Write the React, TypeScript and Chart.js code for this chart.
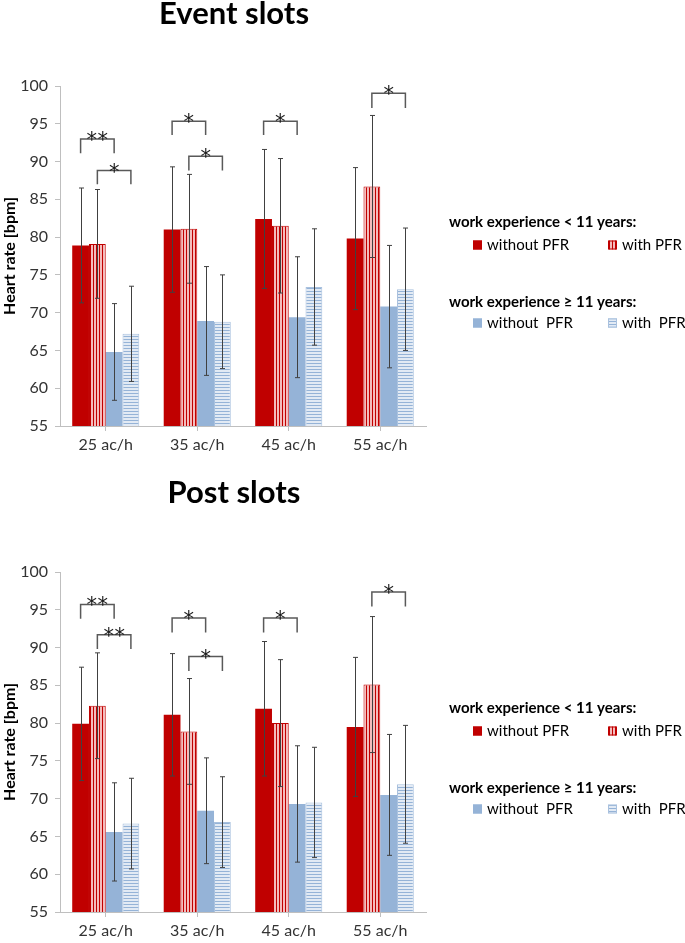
import React, { useEffect, useRef } from "react";
import { Chart, registerables } from "chart.js";

Chart.register(...registerables);

// ---------- data ----------
const categories = ["25 ac/h", "35 ac/h", "45 ac/h", "55 ac/h"];
const seriesLabels = ["without PFR", "with PFR", "without  PFR", "with  PFR"];
const legendHeaders = ["work experience < 11 years:", "work experience \u2265 11 years:"];
const yMin = 55;
const yMax = 100;
const yStep = 5;
const axisTitle = "Heart rate [bpm]";

// Event slots
const eventLtWithout = [78.9, 81.0, 82.4, 79.8];
const eventLtWithoutSd = [7.6, 8.3, 9.2, 9.4];
const eventLtWith = [79.1, 81.1, 81.5, 86.7];
const eventLtWithSd = [7.2, 7.2, 8.9, 9.4];
const eventGeWithout = [64.8, 68.9, 69.4, 70.8];
const eventGeWithoutSd = [6.4, 7.2, 8.0, 8.1];
const eventGeWith = [67.2, 68.8, 73.4, 73.1];
const eventGeWithSd = [6.3, 6.2, 7.7, 8.1];
const eventBrackets = [
  { cat: 0, from: 0, to: 2, top: 93.0, end: 91.1, label: "**" },
  { cat: 0, from: 1, to: 3, top: 88.8, end: 87.0, label: "*" },
  { cat: 1, from: 0, to: 2, top: 95.35, end: 93.5, label: "*" },
  { cat: 1, from: 1, to: 3, top: 90.7, end: 88.8, label: "*" },
  { cat: 2, from: 0, to: 2, top: 95.35, end: 93.5, label: "*" },
  { cat: 3, from: 1, to: 3, top: 99.05, end: 97.1, label: "*" },
];

// Post slots
const postLtWithout = [79.9, 81.1, 81.9, 79.5];
const postLtWithoutSd = [7.5, 8.1, 8.9, 9.2];
const postLtWith = [82.3, 78.9, 80.0, 85.1];
const postLtWithSd = [7.0, 7.0, 8.4, 9.0];
const postGeWithout = [65.6, 68.4, 69.3, 70.5];
const postGeWithoutSd = [6.5, 7.0, 7.7, 8.0];
const postGeWith = [66.7, 66.9, 69.5, 71.9];
const postGeWithSd = [6.0, 6.0, 7.3, 7.8];
const postBrackets = [
  { cat: 0, from: 0, to: 2, top: 95.7, end: 93.8, label: "**" },
  { cat: 0, from: 1, to: 3, top: 91.7, end: 89.8, label: "**" },
  { cat: 1, from: 0, to: 2, top: 93.9, end: 92.0, label: "*" },
  { cat: 1, from: 1, to: 3, top: 88.8, end: 86.9, label: "*" },
  { cat: 2, from: 0, to: 2, top: 93.9, end: 92.0, label: "*" },
  { cat: 3, from: 1, to: 3, top: 97.35, end: 95.45, label: "*" },
];

// ---------- styles ----------
const RED = "#C00000";
const BLUE = "#95B3D7";
const FONT = "Lato, 'Liberation Sans', sans-serif";

function makeVerticalStripes(): CanvasPattern | string {
  const c = document.createElement("canvas");
  c.width = 3;
  c.height = 3;
  const g = c.getContext("2d");
  if (!g) return RED;
  g.fillStyle = "#F4BCBC";
  g.fillRect(0, 0, 3, 3);
  g.fillStyle = RED;
  g.fillRect(0, 0, 1, 3);
  return g.createPattern(c, "repeat") || RED;
}

function makeHorizontalStripes(): CanvasPattern | string {
  const c = document.createElement("canvas");
  c.width = 3;
  c.height = 3;
  const g = c.getContext("2d");
  if (!g) return BLUE;
  g.fillStyle = "#E2EAF4";
  g.fillRect(0, 0, 3, 3);
  g.fillStyle = BLUE;
  g.fillRect(0, 0, 3, 1);
  return g.createPattern(c, "repeat") || BLUE;
}

const errorBarPlugin = {
  id: "errorBars",
  afterDatasetsDraw(chart: any, _args: any, opts: any) {
    const sds: number[][] = opts.sds || [];
    const ctx = chart.ctx;
    const yScale = chart.scales.y;
    ctx.save();
    ctx.strokeStyle = "#404040";
    ctx.lineWidth = 1;
    chart.data.datasets.forEach((ds: any, di: number) => {
      const meta = chart.getDatasetMeta(di);
      meta.data.forEach((el: any, i: number) => {
        const v = ds.data[i];
        const sd = (sds[di] || [])[i] || 0;
        const x = Math.round(el.x) + 0.5;
        const yt = yScale.getPixelForValue(v + sd);
        const yb = yScale.getPixelForValue(v - sd);
        ctx.beginPath();
        ctx.moveTo(x, yt);
        ctx.lineTo(x, yb);
        ctx.moveTo(x - 2.5, yt);
        ctx.lineTo(x + 2.5, yt);
        ctx.moveTo(x - 2.5, yb);
        ctx.lineTo(x + 2.5, yb);
        ctx.stroke();
      });
    });
    ctx.restore();
  },
};

const bracketPlugin = {
  id: "brackets",
  afterDatasetsDraw(chart: any, _args: any, opts: any) {
    const items = opts.items || [];
    const ctx = chart.ctx;
    const yScale = chart.scales.y;
    ctx.save();
    ctx.strokeStyle = "#595959";
    ctx.lineWidth = 1.5;
    ctx.fillStyle = "#1a1a1a";
    ctx.font = `21px 'DejaVu Sans', sans-serif`;
    ctx.textAlign = "center";
    ctx.textBaseline = "alphabetic";
    items.forEach((b: any) => {
      const x1 = chart.getDatasetMeta(b.from).data[b.cat].x;
      const x2 = chart.getDatasetMeta(b.to).data[b.cat].x;
      const yt = yScale.getPixelForValue(b.top);
      const ye = yScale.getPixelForValue(b.end);
      ctx.beginPath();
      ctx.moveTo(x1, ye);
      ctx.lineTo(x1, yt);
      ctx.lineTo(x2, yt);
      ctx.lineTo(x2, ye);
      ctx.stroke();
      const chars = b.label.split("");
      const gap = 11;
      const cx = (x1 + x2) / 2;
      chars.forEach((ch: string, k: number) => {
        const off = (k - (chars.length - 1) / 2) * gap;
        ctx.fillText(ch, cx + off, yt + 8);
      });
    });
    ctx.restore();
  },
};

const decorPlugin = {
  id: "decor",
  afterDraw(chart: any, _args: any, opts: any) {
    const ctx = chart.ctx;
    const area = chart.chartArea;
    ctx.save();
    // title
    ctx.fillStyle = "#000";
    ctx.font = `bold 31px ${FONT}`;
    ctx.textAlign = "center";
    ctx.textBaseline = "middle";
    ctx.fillText(opts.title, opts.titleX, opts.titleY);

    // legend
    const fills = opts.fills;
    const strokes = opts.strokes;
    const rx = area.right;
    const ty = area.top;
    const rows = [
      { header: legendHeaders[0], hy: ty + 136, iy: ty + 159, idx: [0, 1] },
      { header: legendHeaders[1], hy: ty + 216, iy: ty + 237, idx: [2, 3] },
    ];
    rows.forEach((r) => {
      ctx.font = `bold 15px ${FONT}`;
      ctx.textAlign = "left";
      ctx.textBaseline = "middle";
      ctx.fillStyle = "#000";
      ctx.fillText(r.header, rx + 23, r.hy);
      r.idx.forEach((di, k) => {
        const sx = rx + (k === 0 ? 47 : 182);
        ctx.fillStyle = fills[di];
        ctx.fillRect(sx, r.iy - 4.5, 9, 9);
        ctx.strokeStyle = strokes[di];
        ctx.lineWidth = 1;
        ctx.strokeRect(sx + 0.5, r.iy - 4, 8, 8);
        ctx.fillStyle = "#000";
        ctx.font = `15px ${FONT}`;
        ctx.fillText(seriesLabels[di], sx + 14, r.iy + 0.5);
      });
    });
    ctx.restore();
  },
};

type PanelProps = {
  title: string;
  titleY: number;
  height: number;
  padTop: number;
  padBottom: number;
  series: number[][];
  sds: number[][];
  brackets: any[];
};

function SlotChart(p: PanelProps) {
  const ref = useRef<HTMLCanvasElement | null>(null);
  useEffect(() => {
    if (!ref.current) return;
    const redStripes = makeVerticalStripes();
    const blueStripes = makeHorizontalStripes();
    const fills = [RED, redStripes, BLUE, blueStripes];
    const strokes = [RED, RED, BLUE, "#A9C1DE"];
    const chart = new Chart(ref.current, {
      type: "bar",
      data: {
        labels: categories,
        datasets: p.series.map((d, i) => ({
          label: seriesLabels[i],
          data: d,
          backgroundColor: fills[i] as any,
          borderColor: strokes[i],
          borderWidth: i === 0 || i === 2 ? 0 : 1,
          categoryPercentage: 0.733,
          barPercentage: 1.0,
        })),
      },
      options: {
        responsive: false,
        animation: false,
        devicePixelRatio: 1,
        layout: { padding: { top: p.padTop, bottom: p.padBottom, left: 0, right: 259 } },
        plugins: {
          legend: { display: false },
          tooltip: { enabled: false },
          title: { display: false },
          errorBars: { sds: p.sds },
          brackets: { items: p.brackets },
          decor: { title: p.title, titleX: 234, titleY: p.titleY, fills, strokes },
        } as any,
        scales: {
          x: {
            afterFit: (s: any) => {
              s.height = 30;
            },
            grid: {
              offset: false,
              drawOnChartArea: false,
              drawTicks: true,
              tickLength: 5,
              color: "#BFBFBF",
            },
            border: { color: "#BFBFBF" },
            ticks: { color: "#333333", font: { family: FONT, size: 16 }, padding: 4 },
          },
          y: {
            min: yMin,
            max: yMax,
            afterFit: (s: any) => {
              s.width = 60;
            },
            ticks: {
              stepSize: yStep,
              color: "#333333",
              font: { family: FONT, size: 16 },
              padding: 7,
            },
            grid: {
              drawOnChartArea: false,
              drawTicks: true,
              tickLength: 5,
              color: "#BFBFBF",
            },
            border: { color: "#BFBFBF" },
            title: {
              display: true,
              text: axisTitle,
              color: "#000",
              font: { family: FONT, size: 16, weight: "bold" },
              padding: 0,
            },
          },
        },
      },
      plugins: [errorBarPlugin, bracketPlugin, decorPlugin],
    });
    return () => chart.destroy();
  }, []);
  return (
    <canvas
      ref={ref}
      width={685}
      height={p.height}
      style={{ display: "block", width: 685, height: p.height }}
    />
  );
}

export default function App() {
  return (
    <div style={{ position: "absolute", left: 0, top: 0, width: 685, height: 943, background: "#fff" }}>
      <SlotChart
        title="Event slots"
        titleY={14}
        height={475}
        padTop={86}
        padBottom={19}
        series={[eventLtWithout, eventLtWith, eventGeWithout, eventGeWith]}
        sds={[eventLtWithoutSd, eventLtWithSd, eventGeWithoutSd, eventGeWithSd]}
        brackets={eventBrackets}
      />
      <SlotChart
        title="Post slots"
        titleY={18}
        height={468}
        padTop={97}
        padBottom={1}
        series={[postLtWithout, postLtWith, postGeWithout, postGeWith]}
        sds={[postLtWithoutSd, postLtWithSd, postGeWithoutSd, postGeWithSd]}
        brackets={postBrackets}
      />
    </div>
  );
}
